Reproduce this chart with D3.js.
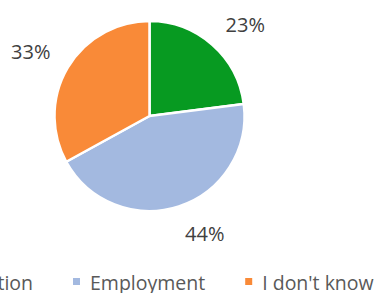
<!DOCTYPE html>
<html>
<head>
<meta charset="utf-8">
<script src="https://cdn.jsdelivr.net/npm/d3@7"></script>
<style>
  body { margin: 0; background: #fff; }
  svg { display: block; font-family: "Open Sans", sans-serif; }
</style>
</head>
<body>
<div id="chart"></div>
<script>
var width = 384;
var height = 293;

// values
var categories = ["Education", "Employment", "I don't know"];
var values = [23, 44, 33];
var colors = ["#079a21", "#a3b9e0", "#f98a38"];

var cx = 149.5, cy = 116, radius = 95;

const svg = d3.select("#chart")
    .append("svg")
    .attr("width", width)
    .attr("height", height);

var g = svg.append("g")
    .attr("transform", "translate(" + cx + "," + cy + ")");

var pie = d3.pie().sort(null).value(function (d) { return d; });
var arcs = pie(values);

var arc = d3.arc().innerRadius(0).outerRadius(radius);

g.selectAll(".slice")
    .data(arcs)
    .enter().append("path")
    .attr("class", "slice")
    .attr("d", arc)
    .attr("fill", function (d, i) { return colors[i]; })
    .attr("stroke", "#fff")
    .attr("stroke-width", 2.5)
    .attr("stroke-linejoin", "round");

// data labels, placed just outside each slice
var labelR = radius + 20;
g.selectAll(".lbl")
    .data(arcs)
    .enter().append("text")
    .attr("class", "lbl")
    .attr("x", function (d) { return labelR * Math.sin((d.startAngle + d.endAngle) / 2); })
    .attr("y", function (d) { return -labelR * Math.cos((d.startAngle + d.endAngle) / 2); })
    .attr("dy", function (d) { return Math.cos((d.startAngle + d.endAngle) / 2) > 0 ? "0.1em" : "0.78em"; })
    .attr("text-anchor", function (d) { return Math.sin((d.startAngle + d.endAngle) / 2) > 0 ? "start" : "end"; })
    .attr("font-size", 20)
    .attr("fill", "#404040")
    .text(function (d) { return d.data + "%"; });

// legend, overflowing on the left like the original
var legend = svg.append("g").attr("class", "legend");
var items = legend.selectAll("g")
    .data(categories)
    .enter().append("g");

items.append("rect")
    .attr("width", 7)
    .attr("height", 7)
    .attr("y", -12)
    .attr("fill", function (d, i) { return colors[i]; });

items.append("text")
    .attr("x", 17)
    .attr("font-size", 19.5)
    .attr("fill", "#595959")
    .text(function (d) { return d; });

// lay the items out left to right, anchored on the middle item
var gap = 40;
var widths = [];
items.each(function () { widths.push(this.getBBox().width); });
var xs = [0];
for (var i = 1; i < widths.length; i++) xs.push(xs[i - 1] + widths[i - 1] + gap);
var shift = 73 - xs[1];
items.attr("transform", function (d, i) { return "translate(" + (xs[i] + shift) + ",290)"; });
</script>
</body>
</html>
